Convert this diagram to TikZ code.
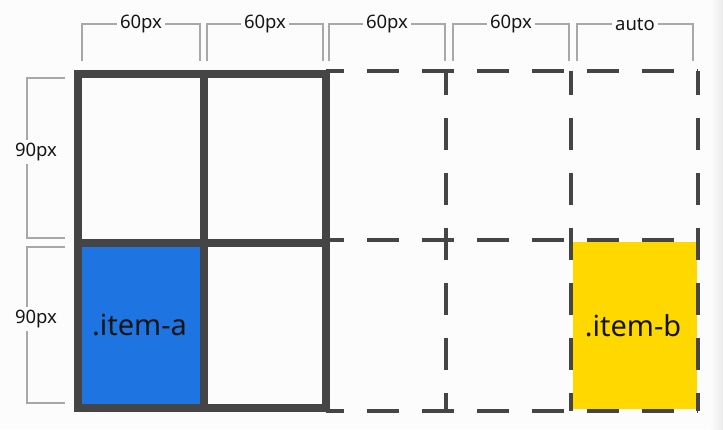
\documentclass[tikz,border=0pt]{standalone}
\usepackage{fontspec}
\setmainfont{Noto Sans}
\usetikzlibrary{calc}
\definecolor{bg}{HTML}{FDFCFD}
\definecolor{gridc}{HTML}{454545}
\definecolor{dimc}{HTML}{A8A8A8}
\definecolor{itema}{HTML}{1E74E0}
\definecolor{itemb}{HTML}{FFD800}
\definecolor{txt}{HTML}{151515}
\tikzset{
  solidline/.style={draw=gridc, line width=8pt, line cap=rect},
  dashline/.style={draw=gridc, line width=4pt, dash pattern=on 32pt off 23pt},
  dimline/.style={draw=dimc, line width=1.3pt},
  dimlabel/.style={fill=bg, text=txt, inner sep=3pt, font=\fontsize{18.5}{22}\selectfont},
  itemlabel/.style={text=txt, inner sep=0pt, font=\fontsize{29}{34}\selectfont}
}
\begin{document}
\begin{tikzpicture}[x=1pt,y=-1pt]
\fill[bg] (0,0) rectangle (723,429);
\shade[left color=bg, right color=black!8] (711,0) rectangle (723,429);
\useasboundingbox (0,0) rectangle (723,429);
% items
\fill[itema] (82,247) rectangle (200,404);
\fill[itemb] (573,242) rectangle (697,409);
% dashed grid
\draw[dashline, dash phase=14pt] (326,70.5) -- (698,70.5);
\draw[dashline, dash phase=14pt] (326,240) -- (698,240);
\draw[dashline, dash phase=14pt] (326,410.5) -- (698,410.5);
\draw[dashline, dash phase=8pt] (446,70.5) -- (446,410.5);
\draw[dashline, dash phase=8pt] (571,70.5) -- (571,410.5);
\draw[dashline, dash phase=8pt] (698,70.5) -- (698,410.5);
% solid grid
\draw[solidline] (78,73.5) rectangle (326,408);
\draw[solidline] (204,73.5) -- (204,408);
\draw[solidline] (78,243) -- (326,243);
% item labels
\node[itemlabel] (ia) at (139.5,325) {.item-a};
\node[itemlabel] (ib) at (633,326) {.item-b};
% top dimension brackets
\foreach \a/\b/\t/\n in {82/200/60px/c1, 207/323/60px/c2, 329/445/60px/c3, 453/569/60px/c4, 577/693/auto/c5}{
  \draw[dimline] (\a,61) -- (\a,24) -- (\b,24) -- (\b,61);
  \node[dimlabel] (\n) at ({(\a+\b)/2},24) {\t};
}
% left dimension brackets
\foreach \a/\b/\n in {78/238/r1, 247/403/r2}{
  \draw[dimline] (65,\a) -- (27,\a) -- (27,\b) -- (65,\b);
  \node[dimlabel, inner xsep=1pt] (\n) at (36,{(\a+\b)/2-6}) {90px};
}
\end{tikzpicture}
\end{document}
